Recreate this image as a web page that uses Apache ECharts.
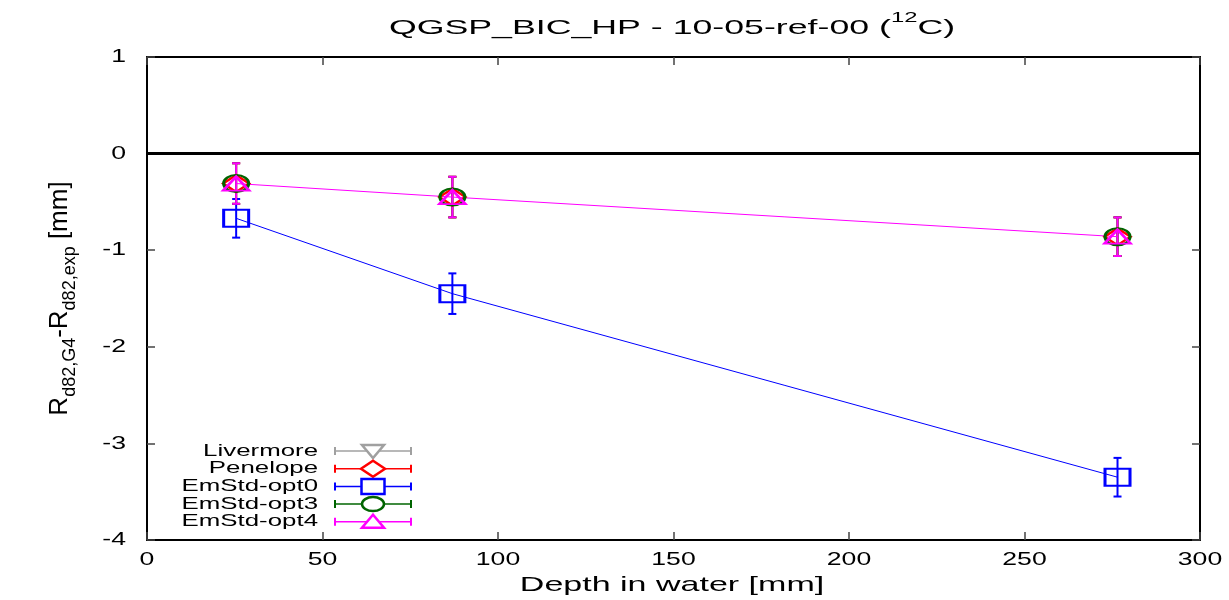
<!DOCTYPE html>
<html>
<head>
<meta charset="utf-8">
<script src="https://cdn.jsdelivr.net/npm/echarts@6/dist/echarts.min.js"></script>
<style>
  html, body { margin: 0; padding: 0; background: #fff; }
  #chart { width: 1229px; height: 600px; }
</style>
</head>
<body>
<div id="chart"></div>
<script>
// Depth of the measurement planes [mm]
const depth = [25.4, 87.0, 276.5];

// R_d82 difference (G4 - exp) [mm] per physics option
const livermore = [];
const penelope  = [-0.31, -0.45, -0.86];
const emstdOpt0 = [-0.67, -1.45, -3.35];
const emstdOpt3 = [-0.31, -0.45, -0.86];
const emstdOpt4 = [-0.31, -0.45, -0.86];

// Uncertainties [mm]
const errLivermore = [];
const errPenelope  = [0.21, 0.21, 0.2];
const errOpt0      = [0.2, 0.21, 0.2];
const errOpt3      = [0.21, 0.21, 0.2];
const errOpt4      = [0.21, 0.21, 0.2];

const xTicks = [0, 50, 100, 150, 200, 250, 300];
const yTicks = [1, 0, -1, -2, -3, -4];

const FONT = '"Liberation Sans", Arial, sans-serif';

const seriesDefs = [
  { name: 'Livermore',  y: livermore, err: errLivermore, color: '#a0a0a0', symbol: 'path://M0,0 L10,0 L5,8.5 Z', size: [25, 15], line: true },
  { name: 'Penelope',   y: penelope,  err: errPenelope,  color: '#ff0000', symbol: 'diamond', size: [26, 17], line: false },
  { name: 'EmStd-opt0', y: emstdOpt0, err: errOpt0,      color: '#0000ff', symbol: 'rect', size: [25, 17], line: true },
  { name: 'EmStd-opt3', y: emstdOpt3, err: errOpt3,      color: '#006400', symbol: 'circle', size: [25, 17], line: false },
  { name: 'EmStd-opt4', y: emstdOpt4, err: errOpt4,      color: '#ff00ff', symbol: 'triangle', size: [26, 14], line: true }
];

const chart = echarts.init(document.getElementById('chart'), null, { renderer: 'canvas' });

function errorBarSeries(def) {
  return {
    type: 'custom',
    name: def.name + ' err',
    silent: true,
    z: 3,
    data: def.y.map((v, i) => [depth[i], v, def.err[i]]),
    renderItem: function (params, api) {
      const x = api.value(0), y = api.value(1), e = api.value(2);
      const top = api.coord([x, y + e]);
      const bot = api.coord([x, y - e]);
      const cap = 4;
      const style = { stroke: def.color, lineWidth: 2 };
      return {
        type: 'group',
        children: [
          { type: 'line', shape: { x1: top[0], y1: top[1], x2: bot[0], y2: bot[1] }, style: style },
          { type: 'line', shape: { x1: top[0] - cap, y1: top[1], x2: top[0] + cap, y2: top[1] }, style: style },
          { type: 'line', shape: { x1: bot[0] - cap, y1: bot[1], x2: bot[0] + cap, y2: bot[1] }, style: style }
        ]
      };
    }
  };
}

function lineSeries(def) {
  return {
    type: 'line',
    name: def.name,
    z: 4,
    data: def.y.map((v, i) => [depth[i], v]),
    symbol: def.symbol,
    symbolSize: def.size,
    showSymbol: true,
    lineStyle: { color: def.color, width: def.line ? 1 : 0, opacity: def.line ? 1 : 0 },
    itemStyle: { color: 'rgba(255,255,255,0)', borderColor: def.color, borderWidth: 2.5 },
    emphasis: { disabled: true },
    animation: false
  };
}

const series = [];
seriesDefs.forEach(def => { series.push(lineSeries(def)); series.push(errorBarSeries(def)); });

// Horizontal reference line at zero
series.push({
  type: 'line',
  name: 'zero',
  data: [[0, 0], [300, 0]],
  symbol: 'none',
  lineStyle: { color: '#000', width: 3 },
  z: 2,
  silent: true,
  animation: false
});

const tickStyle = { inside: true, length: 8, lineStyle: { color: '#444', width: 1.5 } };
const frameLine = { show: true, onZero: false, lineStyle: { color: '#000', width: 2 } };

chart.setOption({
  backgroundColor: '#fff',
  animation: false,
  grid: { left: 147, right: 29, top: 57, bottom: 60, containLabel: false, show: false },
  xAxis: [{
    type: 'value', min: 0, max: 300, interval: 50,
    axisLine: frameLine, axisTick: tickStyle,
    axisLabel: { show: false }, splitLine: { show: false }
  }, {
    type: 'value', min: 0, max: 300, interval: 50, position: 'top',
    axisLine: frameLine, axisTick: tickStyle,
    axisLabel: { show: false }, splitLine: { show: false }
  }],
  yAxis: [{
    type: 'value', min: -4, max: 1, interval: 1,
    name: '{m|R}{s|d82,G4}{m|-R}{s|d82,exp}{m| [mm]}',
    nameLocation: 'middle', nameGap: 68, nameRotate: 90,
    nameTextStyle: {
      rich: {
        m: { fontFamily: FONT, fontSize: 26, color: '#000', lineHeight: 32, verticalAlign: 'top' },
        s: { fontFamily: FONT, fontSize: 18, color: '#000', lineHeight: 32, verticalAlign: 'bottom' }
      }
    },
    axisLine: frameLine, axisTick: tickStyle,
    axisLabel: { show: false }, splitLine: { show: false }
  }, {
    type: 'value', min: -4, max: 1, interval: 1, position: 'right',
    axisLine: frameLine, axisTick: tickStyle,
    axisLabel: { show: false }, splitLine: { show: false }
  }],
  series: series
});

// Wide-set text (title, axis title, tick labels, legend) drawn as graphic text
const graphics = [];

graphics.push({
  type: 'text', x: 672, y: 25, scaleX: 1.70, scaleY: 1,
  style: {
    text: '{t|QGSP_BIC_HP - 10-05-ref-00 (}{s|12}{t|C)}',
    align: 'center', verticalAlign: 'middle',
    rich: {
      t: { fontFamily: FONT, fontSize: 21, fill: '#000', lineHeight: 27, verticalAlign: 'bottom' },
      s: { fontFamily: FONT, fontSize: 14, fill: '#000', lineHeight: 27, verticalAlign: 'top' }
    }
  }
});

graphics.push({
  type: 'text', x: 672, y: 585, scaleX: 1.62, scaleY: 1,
  style: { text: 'Depth in water [mm]', font: '21px ' + FONT, fill: '#000', align: 'center', verticalAlign: 'middle' }
});

// Tick labels placed through the axis scales
xTicks.forEach(v => {
  const px = chart.convertToPixel({ xAxisIndex: 0 }, v);
  graphics.push({
    type: 'text', x: px, y: 560, scaleX: 1.4, scaleY: 1,
    style: { text: String(v), font: '19px ' + FONT, fill: '#000', align: 'center', verticalAlign: 'middle' }
  });
});
yTicks.forEach(v => {
  const py = chart.convertToPixel({ yAxisIndex: 0 }, v);
  graphics.push({
    type: 'text', x: 126, y: py, scaleX: 1.4, scaleY: 1,
    style: { text: String(v), font: '19px ' + FONT, fill: '#000', align: 'right', verticalAlign: 'middle' }
  });
});

// Legend in the lower-left corner: label, error-bar sample and marker
const lgTop = 451, lgStep = 17.7, lgTextRight = 318, lgX1 = 335, lgX2 = 411, lgMid = 373;
seriesDefs.forEach((def, i) => {
  const y = lgTop + i * lgStep;
  graphics.push({
    type: 'text', x: lgTextRight, y: y, scaleX: 1.52, scaleY: 1,
    style: { text: def.name, font: '17px ' + FONT, fill: '#000', align: 'right', verticalAlign: 'middle' }
  });
  const st = { stroke: def.color, lineWidth: 2 };
  graphics.push({ type: 'line', shape: { x1: lgX1, y1: y, x2: lgX2, y2: y }, style: { stroke: def.color, lineWidth: 1.5 } });
  graphics.push({ type: 'line', shape: { x1: lgX1, y1: y - 4, x2: lgX1, y2: y + 4 }, style: st });
  graphics.push({ type: 'line', shape: { x1: lgX2, y1: y - 4, x2: lgX2, y2: y + 4 }, style: st });
});
const mk = { fill: '#fff', lineWidth: 2.5 };
graphics.push({ type: 'polygon', shape: { points: [[lgMid - 11, lgTop - 6], [lgMid + 11, lgTop - 6], [lgMid, lgTop + 7]] }, style: Object.assign({}, mk, { stroke: seriesDefs[0].color }) });
graphics.push({ type: 'polygon', shape: { points: [[lgMid - 12, lgTop + lgStep], [lgMid, lgTop + lgStep - 8], [lgMid + 12, lgTop + lgStep], [lgMid, lgTop + lgStep + 8]] }, style: Object.assign({}, mk, { stroke: seriesDefs[1].color }) });
graphics.push({ type: 'rect', shape: { x: lgMid - 11.5, y: lgTop + 2 * lgStep - 7.5, width: 23, height: 15 }, style: Object.assign({}, mk, { stroke: seriesDefs[2].color }) });
graphics.push({ type: 'ellipse', shape: { cx: lgMid, cy: lgTop + 3 * lgStep, rx: 11, ry: 7 }, style: Object.assign({}, mk, { stroke: seriesDefs[3].color }) });
graphics.push({ type: 'polygon', shape: { points: [[lgMid - 11, lgTop + 4 * lgStep + 6], [lgMid + 11, lgTop + 4 * lgStep + 6], [lgMid, lgTop + 4 * lgStep - 7]] }, style: Object.assign({}, mk, { stroke: seriesDefs[4].color }) });

chart.setOption({ graphic: graphics });
</script>
</body>
</html>
